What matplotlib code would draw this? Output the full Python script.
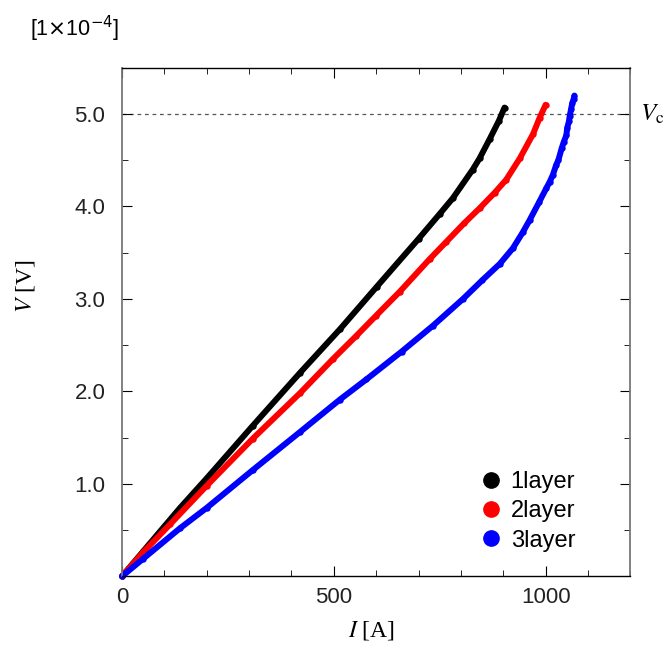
import matplotlib.pyplot as plt
from matplotlib.lines import Line2D
from matplotlib.ticker import MultipleLocator

# values (I in A, V in 1e-4 V)
I1 = [0, 50, 137, 200, 309, 420, 514, 601, 700, 750, 781, 828, 844, 868, 890, 903]
V1 = [0, 0.27, 0.74, 1.06, 1.63, 2.20, 2.67, 3.13, 3.65, 3.92, 4.09, 4.40, 4.52, 4.73, 4.93, 5.07]

I2 = [0, 50, 113, 200, 309, 420, 498, 553, 600, 656, 726, 766, 808, 844, 880, 907, 939, 970, 986, 1000]
V2 = [0, 0.26, 0.56, 0.98, 1.49, 1.98, 2.35, 2.60, 2.82, 3.08, 3.43, 3.62, 3.82, 3.98, 4.15, 4.29,
      4.52, 4.78, 4.96, 5.10]

I3 = [0, 50, 137, 200, 309, 420, 514, 577, 660, 734, 805, 850, 892, 923, 946, 962, 985, 1002,
      1010, 1017, 1025, 1030, 1038, 1043, 1049, 1051, 1055, 1057, 1060, 1063, 1066, 1068]
V3 = [0, 0.19, 0.52, 0.74, 1.15, 1.56, 1.91, 2.13, 2.43, 2.71, 3.00, 3.20, 3.38, 3.55, 3.72, 3.85,
      4.05, 4.20, 4.27, 4.34, 4.45, 4.50, 4.63, 4.70, 4.77, 4.85, 4.92, 4.98, 5.05, 5.12, 5.16, 5.20]

labels = ["1layer", "2layer", "3layer"]
colors = ["black", "red", "blue"]
Vc = 5.0

fig = plt.figure(figsize=(6.67, 6.46), dpi=100)
ax = fig.add_axes([0.183, 0.108, 0.762, 0.787])

for I, V, c in zip([I1, I2, I3], [V1, V2, V3], colors):
    ax.plot(I, V, "-", color=c, lw=4.3, marker="o", ms=4.6, mew=0, clip_on=False,
            solid_capstyle="round", solid_joinstyle="round")

ax.axhline(Vc, color="#555555", lw=0.9, ls=(0, (3, 3)), zorder=0)

ax.set_xlim(0, 1200)
ax.set_ylim(0, 5.5)
ax.set_xticks([0, 500, 1000])
ax.xaxis.set_minor_locator(MultipleLocator(100))
ax.set_yticks([1, 2, 3, 4, 5])
ax.set_yticklabels(["1.0", "2.0", "3.0", "4.0", "5.0"])
ax.yaxis.set_minor_locator(MultipleLocator(0.5))
ax.tick_params(which="both", direction="in", top=True, right=True, labelsize=16)
ax.tick_params(axis="x", pad=8)
ax.tick_params(axis="y", pad=12)
ax.tick_params(which="major", length=7)
ax.tick_params(which="minor", length=4)
for lab in ax.get_xticklabels() + ax.get_yticklabels():
    lab.set_family("Liberation Sans")
    lab.set_color("#222222")

for s in ["left", "right"]:
    ax.spines[s].set_color("#777777")
    ax.spines[s].set_linewidth(1.3)
for s in ["top", "bottom"]:
    ax.spines[s].set_color("black")
    ax.spines[s].set_linewidth(1.0)

ax.set_xlabel("$I$ [A]", family="Liberation Serif", math_fontfamily="stix", fontsize=17)
ax.set_ylabel("$V$ [V]", family="Liberation Serif", math_fontfamily="stix", fontsize=17)
ax.xaxis.set_label_coords(0.49, -0.085)
ax.yaxis.set_label_coords(-0.167, 0.57)

ax.text(1.02, Vc, r"$V_{\mathrm{c}}$", transform=ax.get_yaxis_transform(),
        math_fontfamily="stix", fontsize=18, va="center", ha="left")

fig.text(0.045, 0.955, r"[1$\times$10$^{-4}$]", family="Liberation Sans",
         math_fontfamily="dejavusans", fontsize=15.5, va="center", ha="left")

handles = [Line2D([], [], ls="none", marker="o", ms=11, color=c) for c in colors]
leg = ax.legend(handles, labels, loc="lower right", bbox_to_anchor=(0.91, 0.03),
                borderaxespad=0, frameon=False, handletextpad=0.25, handlelength=1.2,
                labelspacing=0.3, prop={"family": "Liberation Sans", "size": 17})

fig.savefig("out.png", dpi=100)
